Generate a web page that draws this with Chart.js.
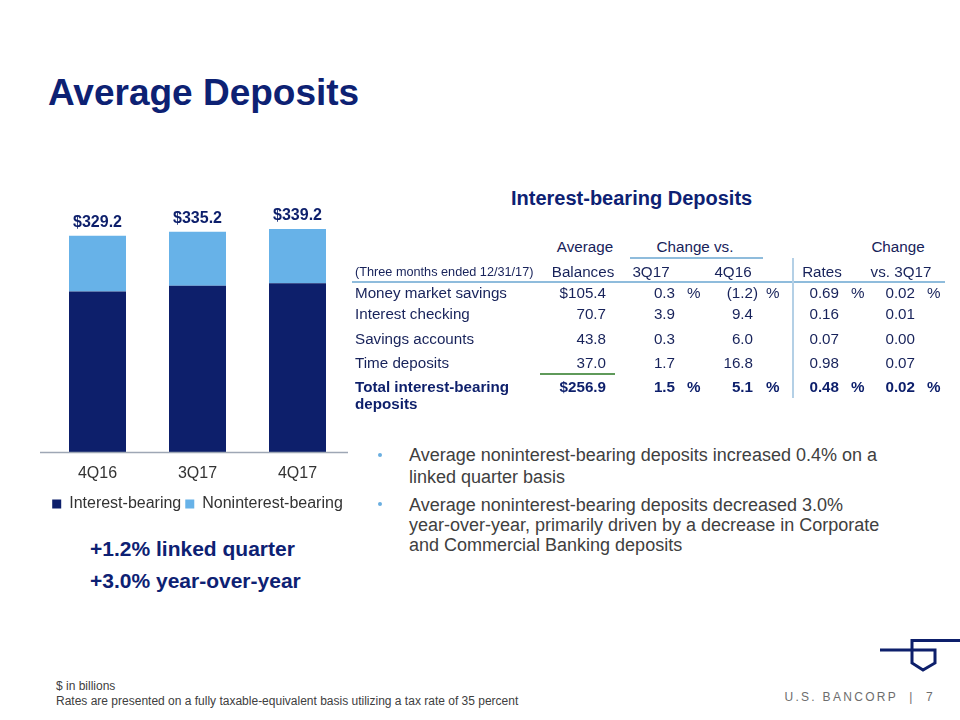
<!DOCTYPE html>
<html>
<head>
<meta charset="utf-8">
<script src="https://cdn.jsdelivr.net/npm/chart.js@4.4.1/dist/chart.umd.min.js"></script>
<style>
  body { margin: 0; background: #fff; font-family: "Liberation Sans", Arial, sans-serif; }
  #page { position: relative; width: 960px; height: 720px; overflow: hidden; background: #fff; }
  .abs { position: absolute; white-space: nowrap; }
  .navy { color: #0d2173; }
  .tbl { position: absolute; white-space: nowrap; font-size: 15.2px; line-height: 18px; color: #17225a; }
  .b { font-weight: bold; color: #0d1f6b; }
  .bul { position: absolute; left: 409px; font-size: 18px; line-height: 20px; color: #404040; white-space: nowrap; }
  .dot { position: absolute; width: 4px; height: 4px; border-radius: 2px; background: #6aaee0; }
</style>
</head>
<body>
<div id="page">
  <div class="abs navy" style="left:48px; top:72px; font-size:37px; line-height:42px; font-weight:bold;">Average Deposits</div>

  <canvas id="grafica_depositos" width="320" height="351" style="position:absolute; left:40px; top:171px;"></canvas>

  <div class="abs navy" style="left:90px; top:537px; font-size:21px; line-height:24px; font-weight:bold;">+1.2% linked quarter</div>
  <div class="abs navy" style="left:90px; top:569px; font-size:21px; line-height:24px; font-weight:bold;">+3.0% year-over-year</div>

  <div class="abs navy" style="left:511px; top:186px; font-size:20px; line-height:24px; font-weight:bold;">Interest-bearing Deposits</div>

  <div id="tabla"></div>

  <div class="dot" style="left:378px; top:453px;"></div>
  <div class="bul" style="top:445px;">Average noninterest-bearing deposits increased 0.4% on a</div>
  <div class="bul" style="top:467px;">linked quarter basis</div>
  <div class="dot" style="left:378px; top:502px;"></div>
  <div class="bul" style="top:495px;">Average noninterest-bearing deposits decreased 3.0%</div>
  <div class="bul" style="top:515px;">year-over-year, primarily driven by a decrease in Corporate</div>
  <div class="bul" style="top:535px;">and Commercial Banking deposits</div>

  <div class="abs" style="left:56px; top:679px; font-size:12px; line-height:15px; color:#404040;">$ in billions</div>
  <div class="abs" style="left:56px; top:694px; font-size:12px; line-height:15px; color:#404040;">Rates are presented on a fully taxable-equivalent basis utilizing a tax rate of 35 percent</div>

  <svg class="abs" style="left:870px; top:630px;" width="90" height="50">
    <path d="M10,20 H65 V33 L53,40 L42,33 V10.5 H90" fill="none" stroke="#0d1f6b" stroke-width="3"/>
  </svg>
  <div class="abs" style="right:25px; top:689px; font-size:12px; line-height:16px; color:#6d6d6d; letter-spacing:2.3px;">U.S. BANCORP&nbsp;&nbsp;|&nbsp;&nbsp;7</div>
</div>

<script>
// datos de la grafica
const trimestres = ['4Q16', '3Q17', '4Q17'];
const con_interes = [244.4, 253.1, 256.9];
const sin_interes = [84.8, 82.1, 82.3];
const totales = [329.2, 335.2, 339.2];
const nombres_series = ['Interest-bearing', 'Noninterest-bearing'];

// datos de la tabla
const filas_tabla = ['Money market savings', 'Interest checking', 'Savings accounts', 'Time deposits'];
const saldos = ['$105.4', '70.7', '43.8', '37.0'];
const cambio_3q17 = ['0.3', '3.9', '0.3', '1.7'];
const cambio_4q16 = ['(1.2)', '9.4', '6.0', '16.8'];
const tasas = ['0.69', '0.16', '0.07', '0.98'];
const cambio_tasas = ['0.02', '0.01', '0.00', '0.07'];
const fila_total = ['$256.9', '1.5', '5.1', '0.48', '0.02'];

const azul_marino = '#0d1f6b';
const azul_claro = '#67b2e8';
const gris_texto = '#333333';

function crear_tabla()
{
	let html = '';
	const centro = (txt, cx, cy, extra) =>
		'<div class="tbl" style="left:' + (cx - 100) + 'px; width:200px; text-align:center; top:' + (cy - 9) + 'px;' + (extra || '') + '">' + txt + '</div>';
	const izq = (txt, x, cy, cls, extra) =>
		'<div class="tbl ' + (cls || '') + '" style="left:' + x + 'px; top:' + (cy - 9) + 'px;' + (extra || '') + '">' + txt + '</div>';
	const der = (txt, x, cy, cls) =>
		'<div class="tbl ' + (cls || '') + '" style="right:' + (960 - x) + 'px; top:' + (cy - 9) + 'px;">' + txt + '</div>';

	// encabezados
	html += centro('Average', 585, 247);
	html += centro('Change vs.', 695, 247);
	html += centro('Change', 898, 247);
	html += izq('(Three months ended 12/31/17)', 355, 272, '', 'font-size:12.7px;');
	html += centro('Balances', 583, 272);
	html += centro('3Q17', 651, 272);
	html += centro('4Q16', 733, 272);
	html += centro('Rates', 822, 272);
	html += centro('vs. 3Q17', 901, 272);

	// lineas
	html += '<div style="position:absolute; left:630px; top:257px; width:133px; height:2px; background:#8fbcdc;"></div>';
	html += '<div style="position:absolute; left:352px; top:281px; width:593px; height:2px; background:#8fbcdc;"></div>';
	html += '<div style="position:absolute; left:792px; top:258px; width:2px; height:140px; background:#b4d0e6;"></div>';
	html += '<div style="position:absolute; left:540px; top:373px; width:75px; height:2px; background:#5f9a5a;"></div>';

	const cols = [606, 675, 753, 839, 915];
	const pcts = [687, 766, 851, 927];
	const filas_y = [293, 314, 339, 363];
	for (let i = 0; i < filas_tabla.length; i++) {
		const y = filas_y[i];
		html += izq(filas_tabla[i], 355, y);
		const vals = [saldos[i], cambio_3q17[i], cambio_4q16[i], tasas[i], cambio_tasas[i]];
		vals.forEach((v, j) => {
			html += der(v, cols[j] + (v.charAt(0) === '(' ? 5 : 0), y);
		});
		if (i === 0) pcts.forEach(x => html += izq('%', x, y));
	}
	// total
	html += izq('Total interest-bearing', 355, 387, 'b');
	html += izq('deposits', 355, 404, 'b');
	fila_total.forEach((v, j) => html += der(v, cols[j], 387, 'b'));
	pcts.forEach(x => html += izq('%', x, 387, 'b'));

	document.getElementById('tabla').innerHTML = html;
}

const etiquetas_totales = {
	id: 'etiquetas_totales',
	afterDatasetsDraw(chart) {
		const ctx = chart.ctx;
		const barras = chart.getDatasetMeta(1).data;
		ctx.save();
		ctx.font = 'bold 16px "Liberation Sans", Arial';
		ctx.fillStyle = azul_marino;
		ctx.textAlign = 'center';
		ctx.textBaseline = 'middle';
		barras.forEach((b, i) => ctx.fillText('$' + totales[i].toFixed(1), b.x, b.y - 13));
		ctx.restore();
	}
};

// linea base del eje x, mas ancha que el area de la grafica
const linea_base = {
	id: 'linea_base',
	afterDatasetsDraw(chart) {
		const ctx = chart.ctx;
		const y = chart.scales.y.getPixelForValue(0);
		ctx.save();
		ctx.strokeStyle = '#9ea7b5';
		ctx.lineWidth = 1.5;
		ctx.beginPath();
		ctx.moveTo(0, y);
		ctx.lineTo(308, y);
		ctx.stroke();
		ctx.restore();
	}
};

function crear_grafica()
{
	new Chart(document.getElementById('grafica_depositos'), {
		type: 'bar',
		data: {
			labels: trimestres,
			datasets: [{
				label: nombres_series[0],
				data: con_interes,
				backgroundColor: azul_marino,
				categoryPercentage: 1,
				barPercentage: 0.57
			}, {
				label: nombres_series[1],
				data: sin_interes,
				backgroundColor: azul_claro,
				categoryPercentage: 1,
				barPercentage: 0.57
			}]
		},
		options: {
			responsive: false,
			animation: false,
			devicePixelRatio: 1,
			layout: { padding: { left: 7.5, right: 12.5, top: 18, bottom: 0 } },
			scales: {
				x: {
					stacked: true,
					grid: { display: false },
					border: { display: false },
					ticks: { color: gris_texto, padding: 3.5, font: { size: 16, family: '"Liberation Sans", Arial' } }
				},
				y: {
					stacked: true,
					display: false,
					min: 0,
					max: 400
				}
			},
			plugins: {
				legend: {
					position: 'bottom',
					// titulo vacio solo para separar la leyenda de las etiquetas
					title: { display: true, text: '', padding: { top: 4, bottom: 0 }, font: { size: 1 } },
					labels: {
						boxWidth: 9,
						boxHeight: 9,
						padding: 4,
						color: gris_texto,
						font: { size: 16, family: '"Liberation Sans", Arial' }
					}
				},
				tooltip: { enabled: false }
			}
		},
		plugins: [etiquetas_totales, linea_base]
	});
}

crear_tabla();
crear_grafica();
</script>
</body>
</html>
